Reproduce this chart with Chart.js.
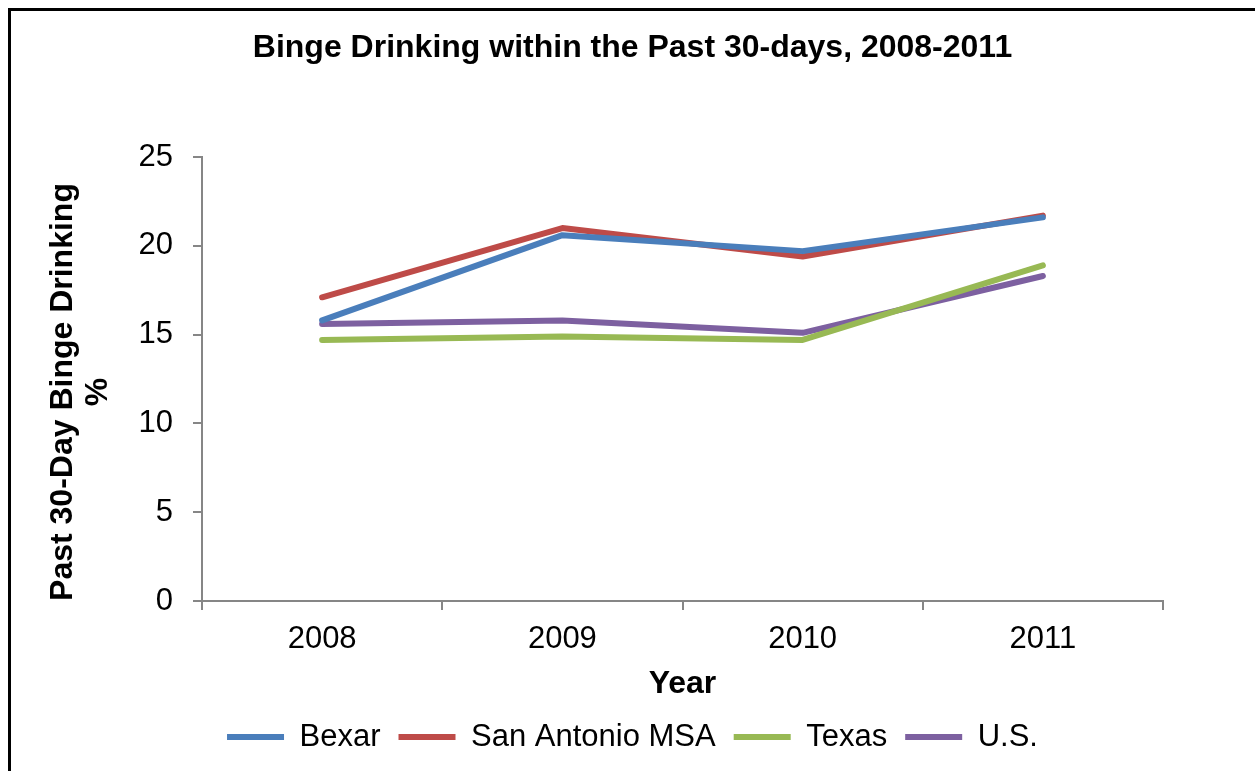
<!DOCTYPE html>
<html>
<head>
<meta charset="utf-8">
<title>Binge Drinking within the Past 30-days, 2008-2011</title>
<script src="https://cdn.jsdelivr.net/npm/chart.js@4.4.1/dist/chart.umd.min.js"></script>
<style>
  html, body { margin: 0; padding: 0; background: #fff; }
  #wrap { position: relative; width: 1255px; height: 771px; overflow: hidden; }
  #frame { position: absolute; left: 8px; top: 8px; width: 1300px; height: 800px;
           border-left: 3px solid #000; border-top: 3px solid #000; box-sizing: border-box; }
  canvas { position: absolute; left: 0; top: 0; }
</style>
</head>
<body>
<div id="wrap">
  <div id="frame"></div>
  <canvas id="bingeChart" width="1255" height="771"></canvas>
</div>
<script>
const years = ['2008', '2009', '2010', '2011'];
const bexar = [15.8, 20.6, 19.7, 21.6];
const sanAntonio = [17.1, 21.0, 19.4, 21.7];
const texas = [14.7, 14.9, 14.7, 18.9];
const us = [15.6, 15.8, 15.1, 18.3];

const FONT = 'Liberation Sans, Arial, Helvetica, sans-serif';
const AXIS_GRAY = '#868686';

function series(label, data, color) {
    return {
        label: label,
        data: data,
        borderColor: color,
        backgroundColor: color,
        borderWidth: 6,
        borderCapStyle: 'round',
        borderJoinStyle: 'round',
        pointRadius: 0,
        pointHoverRadius: 0,
        tension: 0,
        fill: false
    };
}

// two-line rotated y axis title, sitting a little below the axis middle
const yTitlePlugin = {
    id: 'yTitle',
    afterDraw(chart) {
        const ctx = chart.ctx;
        const y = chart.scales.y;
        const cy = y.bottom - 209;
        ctx.save();
        ctx.fillStyle = '#000';
        ctx.font = 'bold 32px ' + FONT;
        ctx.textAlign = 'center';
        ctx.textBaseline = 'middle';
        ctx.translate(63, cy);
        ctx.rotate(-Math.PI / 2);
        ctx.fillText('Past 30-Day Binge Drinking', 0, 0);
        ctx.fillText('%', 0, 35);
        ctx.restore();
    }
};

new Chart(document.getElementById('bingeChart'), {
    type: 'line',
    data: {
        labels: years,
        datasets: [
            series('Bexar', bexar, '#4a7ebb'),
            series('San Antonio MSA', sanAntonio, '#be4b48'),
            series('Texas', texas, '#98b954'),
            series('U.S.', us, '#7d60a0')
        ]
    },
    options: {
        responsive: false,
        animation: false,
        events: [],
        layout: { padding: { left: 10, right: 0, top: 0, bottom: 8.5 } },
        plugins: {
            title: {
                display: true,
                text: 'Binge Drinking within the Past 30-days, 2008-2011',
                color: '#000',
                font: { family: FONT, size: 32, weight: 'bold' },
                padding: { top: 29, bottom: 89.6 }
            },
            legend: {
                position: 'bottom',
                labels: {
                    color: '#000',
                    font: { family: FONT, size: 31 },
                    usePointStyle: true,
                    pointStyle: 'line',
                    pointStyleWidth: 57,
                    padding: 18
                }
            },
            tooltip: { enabled: false }
        },
        scales: {
            x: {
                offset: true,
                grid: {
                    offset: true,
                    drawOnChartArea: false,
                    color: AXIS_GRAY,
                    lineWidth: 2,
                    tickLength: 9
                },
                border: { color: AXIS_GRAY, width: 2 },
                ticks: {
                    color: '#000',
                    font: { family: FONT, size: 31 },
                    padding: 11,
                    maxRotation: 0
                },
                title: {
                    display: true,
                    text: 'Year',
                    color: '#000',
                    font: { family: FONT, size: 32, weight: 'bold' },
                    padding: { top: 0, bottom: 0 }
                },
                afterFit(scale) { scale.height = 102.5; }
            },
            y: {
                min: 0,
                max: 25,
                ticks: {
                    stepSize: 5,
                    color: '#000',
                    font: { family: FONT, size: 31 },
                    padding: 20
                },
                grid: {
                    drawOnChartArea: false,
                    color: AXIS_GRAY,
                    lineWidth: 2,
                    tickLength: 9
                },
                border: { color: AXIS_GRAY, width: 2 },
                afterFit(scale) { scale.width = 192; }
            },
            // empty right-hand axis keeps the plot clear of the right edge
            spacer: {
                type: 'linear',
                position: 'right',
                display: true,
                ticks: { display: false },
                grid: { display: false, drawTicks: false },
                border: { display: false },
                afterFit(scale) { scale.width = 92; }
            }
        }
    },
    plugins: [yTitlePlugin]
});
</script>
</body>
</html>
